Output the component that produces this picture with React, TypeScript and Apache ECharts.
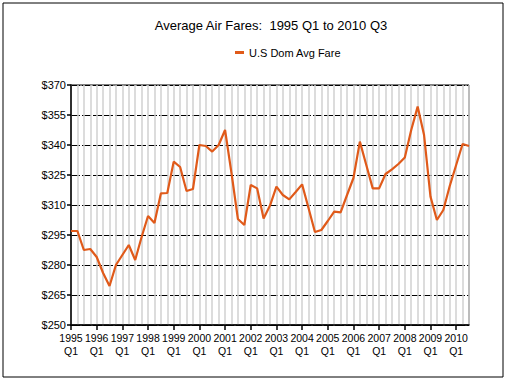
import React, { useEffect, useRef } from "react";
import * as echarts from "echarts";

const years = ["1995","1996","1997","1998","1999","2000","2001","2002","2003","2004","2005","2006","2007","2008","2009","2010"];
const quarters = ["Q1", "Q2", "Q3", "Q4"];
const categories: string[] = [];
years.forEach((y) => quarters.forEach((q) => categories.push(y + " " + q)));
categories.splice(63);

const fares = [
  297, 297, 287.5, 288,
  284, 276, 269.5, 280,
  285, 290, 282.5, 294,
  304.5, 301, 315.8, 316,
  331.7, 329, 317, 318,
  340, 339.5, 336.7, 340,
  347.5, 326, 303, 300,
  320, 318.3, 303.3, 309.7,
  319.2, 315, 312.8, 316.5,
  320.3, 308.5, 296.5, 297.5,
  302, 306.7, 306.3, 315,
  323.5, 341.7, 330, 318.3,
  318.3, 325.5, 327.8, 330.5,
  333.8, 347.5, 359.2, 345,
  314.2, 302.5, 307.5, 319.5,
  330, 340.5, 339.5,
];

const yMin = 250;
const yMax = 370;
const yStep = 15;

export default function App() {
  const ref = useRef<HTMLDivElement>(null);
  useEffect(() => {
    if (!ref.current) return;
    const chart = echarts.init(ref.current, undefined, { renderer: "svg" });
    const font = "Liberation Sans, Arial, sans-serif";
    chart.setOption({
      animation: false,
      backgroundColor: "#fff",
      title: {
        text: "Average Air Fares:  1995 Q1 to 2010 Q3",
        left: 266,
        textAlign: "center",
        top: 14,
        textStyle: { fontFamily: font, fontSize: 13, fontWeight: "normal", color: "#000" },
      },
      legend: {
        top: 42,
        left: 230,
        icon: "rect",
        itemWidth: 9,
        itemHeight: 3,
        itemGap: 6,
        textStyle: { fontFamily: font, fontSize: 11, color: "#000" },
        data: ["U.S Dom Avg Fare"],
      },
      graphic: [
        {
          type: "rect",
          shape: { x: 3, y: 3, width: 500, height: 374 },
          style: { fill: "none", stroke: "#000", lineWidth: 1 },
          silent: true,
        },
      ],
      grid: { left: 71, right: 41, top: 85, bottom: 59, show: true, borderColor: "#000", borderWidth: 1 },
      xAxis: {
        type: "category",
        data: categories,
        boundaryGap: false,
        axisLine: { lineStyle: { color: "#000", width: 1.5 } },
        axisTick: {
          interval: (i: number) => i % 4 === 0,
          length: 5,
          lineStyle: { color: "#000", width: 1.5 },
        },
        axisLabel: {
          interval: (i: number) => i % 4 === 0,
          formatter: (v: string) => v.replace(" ", "\n"),
          fontFamily: font,
          fontSize: 10.5,
          lineHeight: 13,
          color: "#000",
          margin: 6,
        },
        splitLine: { show: true, interval: 0, lineStyle: { color: "#d0d0d0", width: 1.5 } },
      },
      yAxis: {
        type: "value",
        min: yMin,
        max: yMax,
        interval: yStep,
        axisLine: { show: true, lineStyle: { color: "#000", width: 1.5 } },
        axisTick: { show: true, length: 4, lineStyle: { color: "#000", width: 1.5 } },
        axisLabel: {
          formatter: (v: number) => "$" + v,
          fontFamily: font,
          fontSize: 11,
          color: "#000",
          margin: 5,
        },
        splitLine: { show: true, lineStyle: { color: "#000", width: 1.2, type: [9, 2] } },
      },
      series: [
        {
          name: "U.S Dom Avg Fare",
          type: "line",
          data: fares,
          showSymbol: false,
          symbol: "none",
          lineStyle: { color: "#E05A1A", width: 2.2 },
          itemStyle: { color: "#E05A1A" },
        },
      ],
    });
    return () => chart.dispose();
  }, []);
  return <div ref={ref} style={{ position: "fixed", left: 0, top: 0, width: 510, height: 384 }} />;
}
